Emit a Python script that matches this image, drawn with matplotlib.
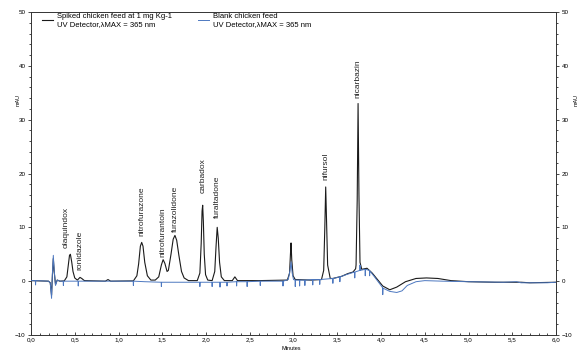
import matplotlib
matplotlib.use("Agg")
import matplotlib.pyplot as plt
from matplotlib.ticker import MultipleLocator, FuncFormatter
import numpy as np

plt.rcParams['font.family'] = ['Liberation Sans', 'DejaVu Sans']

# Spiked chicken feed (1 mg/kg) trace: time (min), absorbance (mAU)
spiked_t = [0.00, 0.20, 0.22, 0.235, 0.245, 0.255, 0.265, 0.28, 0.30, 0.33,
            0.38, 0.41, 0.425, 0.44, 0.45, 0.465, 0.48, 0.50, 0.53,
            0.56, 0.58, 0.61, 0.85, 0.88, 0.91,
            1.17, 1.21, 1.23, 1.25, 1.265, 1.28, 1.30, 1.33, 1.37,
            1.42, 1.46, 1.49, 1.51, 1.53, 1.555, 1.57,
            1.60, 1.625, 1.645, 1.665, 1.69, 1.72, 1.75, 1.80,
            1.90, 1.93, 1.945, 1.955, 1.962, 1.97, 1.98, 1.995, 2.02,
            2.07, 2.10, 2.115, 2.128, 2.14, 2.155, 2.175, 2.21,
            2.30, 2.33, 2.36, 2.60, 2.93, 2.955, 2.965, 2.972, 2.98, 2.995, 3.02,
            3.20, 3.32, 3.345, 3.358, 3.368, 3.378, 3.39, 3.42,
            3.45, 3.55, 3.62, 3.68, 3.71, 3.715, 3.728, 3.738, 3.748, 3.76,
            3.78, 3.84, 3.90, 3.96, 4.02, 4.10, 4.18, 4.28, 4.40, 4.52, 4.65,
            4.80, 5.00, 5.30, 5.60, 5.70, 6.00]
spiked_v = [0.1, 0.0, -0.3, -2.6, 1.2, 4.2, 1.8, -0.6, 0.2, 0.0,
            0.05, 0.8, 2.8, 4.8, 5.0, 3.6, 1.8, 0.6, 0.2,
            0.7, 0.5, 0.1, 0.0, 0.3, 0.0,
            0.05, 1.0, 3.2, 6.5, 7.2, 6.5, 3.5, 1.0, 0.2,
            0.2, 0.8, 3.0, 4.0, 3.3, 1.8, 2.0,
            5.0, 7.8, 8.5, 7.6, 4.8, 1.8, 0.6, 0.1,
            0.1, 1.5, 7.0, 13.0, 14.1, 11.0, 5.0, 1.2, 0.2,
            0.1, 1.8, 6.5, 10.0, 8.0, 3.5, 0.8, 0.1,
            0.1, 0.8, 0.1, 0.1, 0.2, 1.5, 5.0, 7.1, 4.0, 1.0, 0.3,
            0.2, 0.3, 2.0, 10.0, 17.5, 11.0, 3.0, 0.5,
            0.5, 0.9, 1.4, 1.7, 2.3, 3.0, 15.0, 33.0, 16.0, 3.5,
            2.2, 2.4, 1.5, 0.3, -0.9, -1.6, -1.1, -0.1, 0.5, 0.6, 0.5,
            0.1, -0.1, -0.2, -0.2, -0.3, -0.2]

# Blank chicken feed trace
blank_t = [0.00, 0.05, 0.052, 0.055, 0.20, 0.22, 0.235, 0.245, 0.255, 0.265, 0.28, 0.30, 0.33,
           0.368, 0.37, 0.373, 0.538, 0.54, 0.543, 0.80, 1.168, 1.17, 1.173, 1.30,
           1.488, 1.49, 1.493, 1.70, 1.928, 1.93, 1.933, 2.068, 2.07, 2.073,
           2.158, 2.16, 2.163, 2.238, 2.24, 2.243, 2.348, 2.35, 2.353,
           2.468, 2.47, 2.473, 2.618, 2.62, 2.623, 2.878, 2.88, 2.883,
           2.94, 2.96, 2.972, 2.985, 3.00, 3.018, 3.02, 3.023, 3.068, 3.07, 3.073,
           3.128, 3.13, 3.133, 3.218, 3.22, 3.223, 3.298, 3.30, 3.303,
           3.448, 3.45, 3.453, 3.528, 3.53, 3.533, 3.60, 3.698, 3.70, 3.703,
           3.758, 3.76, 3.763, 3.818, 3.82, 3.823, 3.868, 3.87, 3.873, 3.93,
           4.018, 4.02, 4.023, 4.10, 4.18, 4.24, 4.30, 4.40, 4.50, 4.70,
           5.00, 5.40, 5.55, 5.60, 5.90, 6.00]
blank_v = [0.1, 0.1, -0.7, 0.1, 0.0, -0.3, -3.2, 1.5, 4.8, 2.0, -0.8, 0.2, 0.0,
           0.0, -0.8, 0.0, 0.0, -0.9, 0.0, 0.0, 0.0, -0.8, 0.0, -0.1,
           -0.2, -1.0, -0.2, -0.2, -0.2, -1.0, -0.2, -0.2, -1.0, -0.2,
           -0.2, -1.1, -0.2, -0.2, -0.9, -0.2, -0.1, -0.9, -0.1,
           -0.1, -1.0, -0.1, 0.0, -0.8, 0.0, 0.0, -0.9, 0.0,
           0.3, 2.0, 3.6, 1.5, 0.3, 0.2, -1.0, 0.2, 0.2, -0.9, 0.2,
           0.2, -0.8, 0.2, 0.3, -0.7, 0.3, 0.3, -0.6, 0.3,
           0.5, -0.4, 0.5, 0.8, -0.1, 0.8, 1.2, 1.7, 0.6, 1.7,
           2.0, 3.0, 2.0, 2.2, 1.0, 2.2, 2.0, 1.0, 1.9, 0.7,
           -1.2, -2.5, -1.3, -1.9, -2.1, -1.8, -0.8, -0.1, 0.1, 0.0,
           -0.1, -0.2, -0.1, -0.3, -0.3, -0.2]

# Peak labels
peak_names = ["olaquindox", "ronidazole", "nitrofurazone", "nitrofurantoin",
              "furazolidone", "carbadox", "furaltadone", "nifursol", "nicarbazin"]
peak_times = [0.40, 0.56, 1.265, 1.51, 1.645, 1.962, 2.128, 3.368, 3.738]
peak_label_y = [6.1, 2.0, 8.3, 4.4, 9.1, 16.3, 11.7, 18.7, 34.1]

x_ticks = [0.0, 0.5, 1.0, 1.5, 2.0, 2.5, 3.0, 3.5, 4.0, 4.5, 5.0, 5.5, 6.0]
y_ticks = [-10, 0, 10, 20, 30, 40, 50]

fig = plt.figure(figsize=(5.86, 3.53), dpi=100)
ax = fig.add_axes([31/586, 1-335/353, (556-31)/586, (335-12)/353])

blue = '#4d78c0'
l_spiked, = ax.plot(spiked_t, spiked_v, color='#1a1a1a', lw=0.8, zorder=2)
l_blank, = ax.plot(blank_t, blank_v, color=blue, lw=0.7, zorder=3)

for name, t, y in zip(peak_names, peak_times, peak_label_y):
    ax.text(t, y, name, rotation=90, ha='center', va='bottom', fontsize=6,
            color='#222222')

ax.set_xlim(0, 6)
ax.set_ylim(-10, 50)
ax.set_xticks(x_ticks)
ax.set_yticks(y_ticks)
ax.xaxis.set_minor_locator(MultipleLocator(0.1))
ax.yaxis.set_minor_locator(MultipleLocator(2))
ax.xaxis.set_major_formatter(FuncFormatter(lambda v, p: f"{v:.1f}".replace('.', ',')))
ax.tick_params(axis='x', which='both', direction='in', labelsize=4.5, pad=2,
               length=2.5, width=0.5)
ax.tick_params(axis='x', which='minor', length=1.5)
ax.tick_params(axis='y', which='both', direction='out', labelsize=4.5, pad=1.5,
               length=2.5, width=0.5, right=True, labelright=True)
ax.tick_params(axis='y', which='minor', length=1.5)
for s in ax.spines.values():
    s.set_linewidth(0.7)
    s.set_color('#333333')

fig.text(18/586, 1-100/353, "mAU", rotation=90, fontsize=4, ha='center', va='center')
fig.text(576/586, 1-100/353, "mAU", rotation=90, fontsize=4, ha='center', va='center')
fig.text(291/586, 1-349/353, "Minutes", fontsize=4, ha='center', va='center')

ax.legend([l_spiked, l_blank],
          ["Spiked chicken feed at 1 mg Kg-1\nUV Detector,λMAX = 365 nm",
           "Blank chicken feed\nUV Detector,λMAX = 365 nm"],
          ncol=2, loc='upper left', bbox_to_anchor=(0.012, 1.012), frameon=False,
          fontsize=5.5, handlelength=1.5, handletextpad=0.45, columnspacing=3.4,
          borderaxespad=0.2)

fig.savefig("out.png", dpi=100)
